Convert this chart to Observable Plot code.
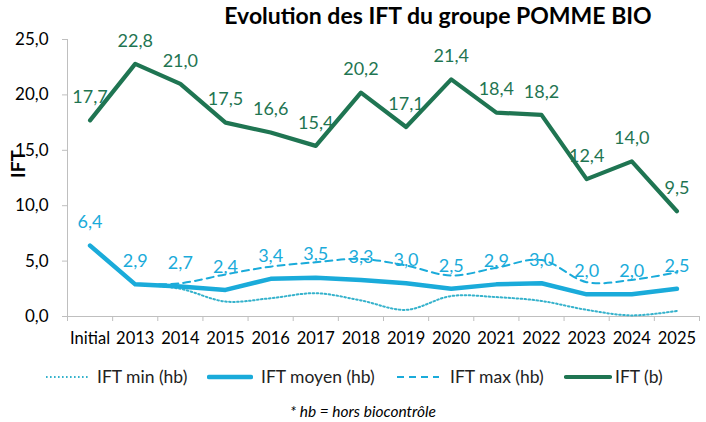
<!DOCTYPE html>
<html>
<head>
<meta charset="utf-8">
<script src="https://cdn.jsdelivr.net/npm/d3@7"></script>
<script src="https://cdn.jsdelivr.net/npm/@observablehq/plot@0.6"></script>
<style>
  html, body { margin: 0; padding: 0; background: #fff; }
  body { width: 706px; height: 422px; position: relative; font-family: Lato, "Open Sans", sans-serif; overflow: hidden; }
  #title { position: absolute; left: 0; top: 0; width: 876px; height: 30px; line-height: 30px; text-align: center; font-weight: bold; font-size: 23px; color: #000; white-space: nowrap; }
  #chart { position: absolute; left: 0; top: 28px; }
  #legend { position: absolute; left: 0; top: 364px; width: 706px; height: 26px; }
  .sw { position: absolute; top: 8px; }
  .lt { position: absolute; top: 0; height: 26px; line-height: 26px; font-size: 17.5px; color: #222; white-space: nowrap; }
  #caption { position: absolute; left: 0; top: 401px; width: 726px; line-height: 20px; text-align: center; font-style: italic; font-size: 15.5px; color: #000; }
</style>
</head>
<body>
<div id="title">Evolution des IFT du groupe POMME BIO</div>
<div id="chart"></div>
<div id="legend"></div>
<div id="caption">* hb = hors biocontrôle</div>
<script>
const categories = ["Initial","2013","2014","2015","2016","2017","2018","2019","2020","2021","2022","2023","2024","2025"];
const iftB      = [17.7,22.8,21.0,17.5,16.6,15.4,20.2,17.1,21.4,18.4,18.2,12.4,14.0,9.5];
const iftMoyen  = [6.4,2.9,2.7,2.4,3.4,3.5,3.3,3.0,2.5,2.9,3.0,2.0,2.0,2.5];
const iftMax    = [null,2.9,3.0,3.8,4.5,4.9,5.2,4.6,3.7,4.4,5.1,3.1,3.3,4.0];
const iftMin    = [null,2.9,2.5,1.35,1.65,2.1,1.45,0.6,1.85,1.75,1.4,0.6,0.1,0.5];
const yTicks    = [0,5,10,15,20,25];
const seriesNames = ["IFT min (hb)","IFT moyen (hb)","IFT max (hb)","IFT (b)"];

const GREEN = "#1f7552";
const BLUE = "#1aabda";
const BLUE_LIGHT = "#35b2cc";
const GRID = "#bfbfbf";

const rows = categories.map((c, i) => ({
  pos: i + 0.5, cat: c, b: iftB[i], moy: iftMoyen[i], max: iftMax[i], min: iftMin[i]
}));
const fmt = v => v.toFixed(1).replace(".", ",");

const chart = Plot.plot({
  width: 706,
  height: 322,
  marginLeft: 67,
  marginRight: 7,
  marginTop: 11,
  marginBottom: 34,
  style: { fontFamily: "Lato, 'Open Sans', sans-serif", fontSize: "16px", background: "transparent", overflow: "visible" },
  x: { domain: [0, categories.length], axis: null },
  y: { domain: [0, 25], axis: null },
  marks: [
    Plot.ruleY([0], { stroke: GRID, strokeWidth: 1 }),
    Plot.ruleX([0], { stroke: GRID, strokeWidth: 1 }),
    Plot.axisY(yTicks, { tickSize: 5, tickPadding: 14, stroke: GRID, fill: "#000", fontSize: 17, tickFormat: fmt, label: null }),
    Plot.axisX(d3.range(categories.length + 1), { tickSize: 5, stroke: GRID, tickFormat: () => "", label: null }),
    Plot.axisX(rows.map(r => r.pos), { tickSize: 0, tickPadding: 16, fill: "#000", fontSize: 16.5, tickFormat: d => categories[Math.round(d - 0.5)], label: null }),
    Plot.text(["IFT"], { frameAnchor: "left", dx: -49, rotate: -90, fontWeight: "bold", fontSize: 19, fill: "#000" }),
    Plot.line(rows, { x: "pos", y: "min", stroke: BLUE_LIGHT, strokeWidth: 2, strokeDasharray: "1.6,2.4", curve: "catmull-rom" }),
    Plot.line(rows, { x: "pos", y: "moy", stroke: BLUE, strokeWidth: 4.5, strokeLinejoin: "round" }),
    Plot.line(rows, { x: "pos", y: "max", stroke: BLUE, strokeWidth: 2, strokeDasharray: "7,5", curve: "catmull-rom" }),
    Plot.line(rows, { x: "pos", y: "b", stroke: GREEN, strokeWidth: 4.2, strokeLinejoin: "round" }),
    Plot.text(rows, { x: "pos", y: "moy", text: d => fmt(d.moy), dy: -23, fill: BLUE, fontSize: 18 }),
    Plot.text(rows, { x: "pos", y: "b", text: d => fmt(d.b), dy: -23, fill: GREEN, fontSize: 18 })
  ]
});
document.getElementById("chart").appendChild(chart);

// legend
const legend = document.getElementById("legend");
const swatches = [
  { left: 46, w: 42, text: 97, stroke: BLUE_LIGHT, sw: 2, dash: "1.6,2.4" },
  { left: 207, w: 46, text: 261, stroke: BLUE, sw: 4.5, dash: null },
  { left: 397, w: 42, text: 450, stroke: BLUE, sw: 2, dash: "7,5" },
  { left: 564, w: 48, text: 615, stroke: GREEN, sw: 4.2, dash: null }
];
seriesNames.forEach((name, i) => {
  const s = swatches[i];
  const sw = document.createElement("div");
  sw.className = "sw";
  sw.style.left = s.left + "px";
  sw.innerHTML = `<svg width="${s.w}" height="10" style="display:block"><line x1="${s.dash ? 0 : 2}" x2="${s.dash ? s.w : s.w - 2}" y1="5" y2="5" stroke="${s.stroke}" stroke-width="${s.sw}" ${s.dash ? `stroke-dasharray="${s.dash}"` : ""} stroke-linecap="${s.dash ? "butt" : "round"}"/></svg>`;
  legend.appendChild(sw);
  const t = document.createElement("div");
  t.className = "lt";
  t.style.left = s.text + "px";
  t.textContent = name;
  legend.appendChild(t);
});
</script>
</body>
</html>
